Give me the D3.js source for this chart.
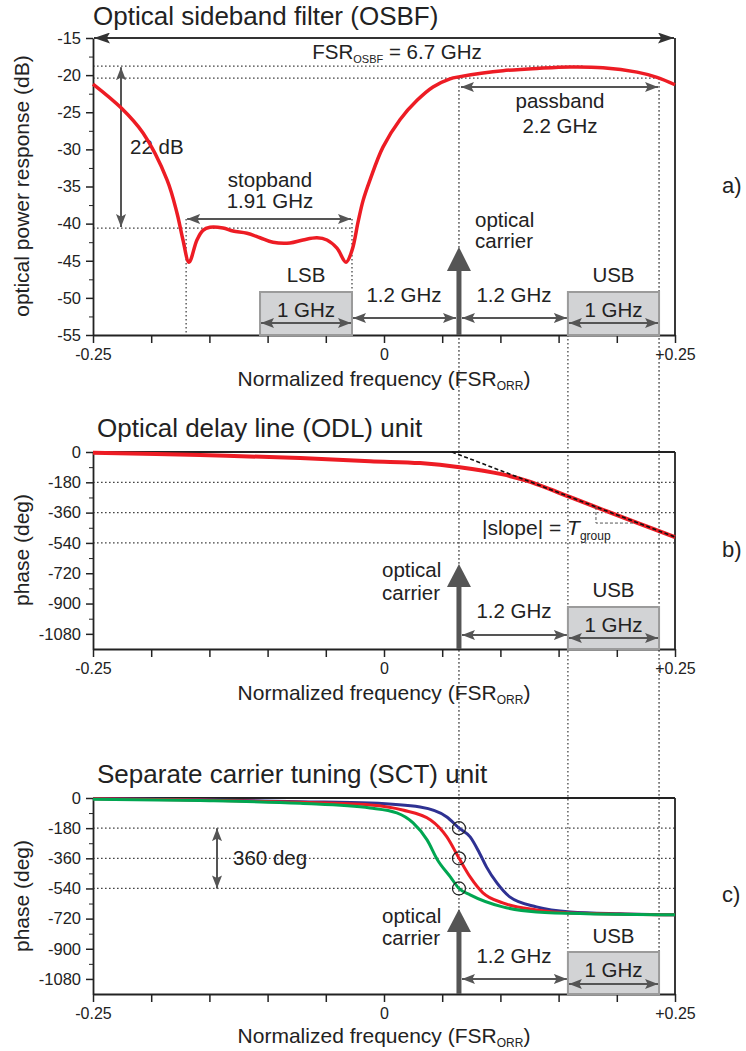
<!DOCTYPE html>
<html><head><meta charset="utf-8">
<script src="https://cdn.jsdelivr.net/npm/d3@7"></script>
<style>
body{margin:0;background:#fff}
text{font-family:"Liberation Sans",Arial,Helvetica,sans-serif;fill:#222}
</style>
</head><body>
<svg id="c" width="746" height="1051"></svg>
<script>
// ---------- data ----------
const xTickVals = [-0.25,-0.2,-0.15,-0.1,-0.05,0,0.05,0.1,0.15,0.2,0.25];
const xTickLabels = ["-0.25","","","","","0","","","","","+0.25"];
const dbTicks = [-15,-20,-25,-30,-35,-40,-45,-50,-55];
const dbMinor = [-17.5,-22.5,-27.5,-32.5,-37.5,-42.5,-47.5,-52.5];
const phaseTicks = [0,-180,-360,-540,-720,-900,-1080];
const phaseMinor = [-90,-270,-450,-630,-810,-990];
const phaseGrid = [-180,-360,-540];

// OSBF measured response (normalized freq, dB)
const osbfFreq = [-0.25,-0.2259,-0.207,-0.1864,-0.1778,-0.1727,-0.1675,-0.1607,-0.1555,-0.1495,-0.1383,-0.1297,-0.1177,-0.1065,-0.0954,-0.0808,-0.0696,-0.0576,-0.049,-0.0404,-0.0326,-0.0275,-0.0223,-0.018,-0.012,-0.0009,0.0137,0.0284,0.0421,0.0567,0.0653,0.0851,0.1022,0.1314,0.1598,0.1881,0.2174,0.2345,0.25];
const osbfDb   = [-21.2,-24.4,-27.8,-34.1,-38.6,-42.2,-45.2,-42.2,-40.9,-40.5,-40.6,-41.0,-41.3,-41.9,-42.5,-42.6,-42.2,-41.9,-42.2,-43.3,-45.2,-43.6,-39.8,-36.9,-34.1,-29.7,-26.0,-23.4,-21.6,-20.5,-20.2,-19.7,-19.4,-19.1,-18.9,-19.0,-19.6,-20.3,-21.3];

// ODL phase (normalized freq, deg)
const odlFreq  = [-0.25,-0.158,-0.072,-0.012,0.031,0.065,0.102,0.123,0.16,0.188,0.217,0.25];
const odlPhase = [-5,-18,-36,-55,-66,-90,-133,-172,-268,-343,-420,-505];
const tangentFreq = [0.0584,0.25];
const tangentPhase = [0,-505];

// SCT phase curves
const blueFreq  = [-0.25,-0.158,-0.072,-0.012,0.031,0.054,0.0645,0.074,0.082,0.088,0.097,0.108,0.131,0.16,0.203,0.25];
const bluePhase = [-3,-10,-22,-30,-54,-113,-180,-232,-328,-411,-507,-590,-650,-680,-691,-697];
const redFreq   = [-0.25,-0.158,-0.072,-0.012,0.016,0.04,0.054,0.0645,0.074,0.085,0.102,0.131,0.16,0.25];
const redPhase  = [-4,-12,-26,-42,-72,-131,-232,-360,-471,-566,-626,-668,-686,-697];
const greenFreq = [-0.25,-0.158,-0.072,-0.012,0.011,0.025,0.037,0.046,0.057,0.0645,0.074,0.102,0.131,0.174,0.25];
const greenPhase= [-8,-15,-32,-60,-89,-149,-250,-370,-471,-540,-578,-650,-680,-691,-697];
const carrierPhases = [-180,-360,-540];

// annotation positions (normalized freq)
const carrierF = 0.0644, usbStart = 0.158, usbEnd = 0.2363;
const lsbStart = -0.1065, lsbEnd = -0.0275, stopStart = -0.170, stopEnd = -0.0275;
const peakDb = -18.8, passDb = -20.4, stopDb = -40.6;

// ---------- drawing ----------
const svg = d3.select("#c");
const FONT = '"Liberation Sans",Arial,Helvetica,sans-serif';
const GRAY = "#555";
const defs = svg.append("defs");
function marker(id, color, len, wid){
  defs.append("marker").attr("id",id).attr("markerUnits","userSpaceOnUse")
    .attr("markerWidth",len).attr("markerHeight",wid).attr("refX",len).attr("refY",wid/2)
    .attr("orient","auto-start-reverse")
    .append("path").attr("d",`M0,0L${len},${wid/2}L0,${wid}L${len*0.2},${wid/2}Z`).attr("fill",color);
}
marker("ah",GRAY,13,10);
marker("ahk","#333",16,11);

const x = d3.scaleLinear().domain([-0.25,0.25]).range([93,675]);
const yA = d3.scaleLinear().domain([-55,-15]).range([335,38]);
const yB = d3.scaleLinear().domain([-1170,0]).range([649,452]);
const yC = d3.scaleLinear().domain([-1170,0]).range([994,798]);

const gDot = svg.append("g");
const gMain = svg.append("g");

function dotted(g,x1,y1,x2,y2){
  g.append("line").attr("x1",x1).attr("y1",y1).attr("x2",x2).attr("y2",y2)
   .attr("stroke","#444").attr("stroke-width",1.3).attr("stroke-dasharray","1.6,2.4");
}
function arrow(g,x1,y1,x2,y2,both,col,mk,w){
  const l = g.append("line").attr("x1",x1).attr("y1",y1).attr("x2",x2).attr("y2",y2)
   .attr("stroke",col||GRAY).attr("stroke-width",w||2).attr("marker-end",`url(#${mk||"ah"})`);
  if(both) l.attr("marker-start",`url(#${mk||"ah"})`);
}
function txt(g,s,xx,yy,size,anchor){
  return g.append("text").attr("x",xx).attr("y",yy).attr("font-size",size).attr("text-anchor",anchor||"start").text(s);
}
function xlabel(g,yy){
  const t = g.append("text").attr("x",384).attr("y",yy).attr("font-size",21).attr("text-anchor","middle");
  t.append("tspan").text("Normalized frequency (FSR");
  t.append("tspan").attr("font-size",12).attr("dy",4).text("ORR");
  t.append("tspan").attr("font-size",21).attr("dy",-4).text(")");
}
function ylabel(g,s,cy){
  g.append("text").attr("transform",`translate(29,${cy}) rotate(-90)`).attr("font-size",21)
   .attr("text-anchor","middle").text(s);
}
function axes(g,y,majors,minors,top,bottom){
  const ax = g.append("g").attr("transform",`translate(93,0)`)
    .call(d3.axisLeft(y).tickValues(majors).tickSize(7).tickPadding(5).tickSizeOuter(0).tickFormat(d=>d===0?"0":String(d)));
  ax.attr("font-size",16.5).attr("font-family",FONT).attr("color","#222");
  ax.select(".domain").attr("stroke-width",1.8);
  ax.selectAll("line").attr("stroke-width",1.5);
  const mi = g.append("g").attr("transform",`translate(93,0)`)
    .call(d3.axisLeft(y).tickValues(minors).tickSize(4).tickFormat(""));
  mi.attr("color","#222"); mi.select(".domain").remove();
  const bx = g.append("g").attr("transform",`translate(0,${bottom})`)
    .call(d3.axisBottom(x).tickValues(xTickVals).tickSize(8).tickPadding(6).tickSizeOuter(0)
    .tickFormat((d,i)=>xTickLabels[i]));
  bx.attr("font-size",16).attr("font-family",FONT).attr("color","#222");
  bx.select(".domain").attr("stroke-width",1.8);
  bx.selectAll("line").attr("stroke-width",1.5);
  g.append("line").attr("x1",675).attr("x2",675).attr("y1",top).attr("y2",bottom).attr("stroke","#222").attr("stroke-width",1.8);
}
function carrierArrow(g,tip,base,bottom){
  g.append("line").attr("x1",x(carrierF)).attr("x2",x(carrierF)).attr("y1",base-1).attr("y2",bottom)
   .attr("stroke",GRAY).attr("stroke-width",5);
  const cx = x(carrierF);
  g.append("path").attr("d",`M${cx},${tip}L${cx+12},${base}L${cx-12},${base}Z`).attr("fill",GRAY);
}
function sideBox(g,f0,f1,top,bottom,arrY,txtY){
  g.append("rect").attr("x",x(f0)).attr("y",top).attr("width",x(f1)-x(f0)).attr("height",bottom-top)
   .attr("fill","#d2d3d5").attr("stroke","#9b9b9b").attr("stroke-width",2);
  txt(g,"1 GHz",(x(f0)+x(f1))/2,txtY,20.5,"middle");
  arrow(g,x(f0)+1,arrY,x(f1)-1,arrY,true);
}

// long vertical dotted guides
dotted(gDot,x(carrierF),yA(passDb),x(carrierF),994);
dotted(gDot,x(usbEnd),yA(passDb),x(usbEnd),994);
dotted(gDot,x(usbStart),335,x(usbStart),994);

// ===== Panel A =====
const A = gMain.append("g");
txt(A,"Optical sideband filter (OSBF)",93,25,26);
dotted(A,93,yA(peakDb),x(0.171),yA(peakDb));
dotted(A,93,yA(passDb),x(usbEnd),yA(passDb));
dotted(A,93,yA(stopDb),x(stopEnd),yA(stopDb));
dotted(A,x(stopStart),219,x(stopStart),335);
dotted(A,x(stopEnd),219,x(stopEnd),335);
axes(A,yA,dbTicks,dbMinor,38,335);
ylabel(A,"optical power response (dB)",186);
xlabel(A,386);
// FSR arrow on top
arrow(A,94,38,674,38,true,"#333","ahk",2);
const fsr = A.append("text").attr("x",397).attr("y",59).attr("font-size",20.5).attr("text-anchor","middle");
fsr.append("tspan").text("FSR");
fsr.append("tspan").attr("font-size",11).attr("dy",4).text("OSBF");
fsr.append("tspan").attr("dy",-4).text(" = 6.7 GHz");
// 22 dB
arrow(A,121,yA(peakDb)+1,121,yA(stopDb)-1,true);
txt(A,"22 dB",130,154,20.5);
// stopband
arrow(A,x(stopStart)+1,219,x(stopEnd)-1,219,true);
txt(A,"stopband",270,187,20.5,"middle");
txt(A,"1.91 GHz",270,208,20.5,"middle");
// passband
arrow(A,x(carrierF)+2,87,x(usbEnd)-1,87,true);
txt(A,"passband",560,108,20.5,"middle");
txt(A,"2.2 GHz",560,133,20.5,"middle");
// curve
A.append("path").datum(osbfFreq.map((f,i)=>[f,osbfDb[i]]))
  .attr("d",d3.line().x(d=>x(d[0])).y(d=>yA(d[1])).curve(d3.curveCatmullRom.alpha(0.5)))
  .attr("fill","none").attr("stroke","#ed1c24").attr("stroke-width",3.5);
// carrier & sidebands
txt(A,"optical",475,227,20.5); txt(A,"carrier",475,248,20.5);
carrierArrow(A,247,271,335);
arrow(A,x(lsbEnd)+1,318,x(carrierF)-3,318,true);
arrow(A,x(carrierF)+3,318,x(usbStart)-1,318,true);
txt(A,"1.2 GHz",404,302,20.5,"middle");
txt(A,"1.2 GHz",514,302,20.5,"middle");
txt(A,"LSB",(x(lsbStart)+x(lsbEnd))/2,282,20.5,"middle");
txt(A,"USB",(x(usbStart)+x(usbEnd))/2,282,20.5,"middle");
sideBox(A,lsbStart,lsbEnd,292,335,323,317);
sideBox(A,usbStart,usbEnd,292,335,323,317);
txt(A,"a)",722,193,22);

// ===== Panel B =====
const B = gMain.append("g");
txt(B,"Optical delay line (ODL) unit",97,437,26);
phaseGrid.forEach(p=>dotted(B,93,yB(p),675,yB(p)));
axes(B,yB,phaseTicks,phaseMinor,452,649);
B.append("line").attr("x1",93).attr("x2",675).attr("y1",452).attr("y2",452).attr("stroke","#222").attr("stroke-width",1.8);
ylabel(B,"phase (deg)",550);
xlabel(B,700);
B.append("path").datum(odlFreq.map((f,i)=>[f,odlPhase[i]]))
  .attr("d",d3.line().x(d=>x(d[0])).y(d=>yB(d[1])).curve(d3.curveCatmullRom.alpha(0.5)))
  .attr("fill","none").attr("stroke","#ed1c24").attr("stroke-width",4);
B.append("path").datum(tangentFreq.map((f,i)=>[f,tangentPhase[i]]))
  .attr("d",d3.line().x(d=>x(d[0])).y(d=>yB(d[1])))
  .attr("fill","none").attr("stroke","#111").attr("stroke-width",1.6).attr("stroke-dasharray","4,2.5");
B.append("path").attr("d",`M${x(0.1821)},${yB(-327)}V${yB(-422)}H${x(0.2156)}`)
  .attr("fill","none").attr("stroke",GRAY).attr("stroke-width",1).attr("stroke-dasharray","3,2");
const sl = B.append("text").attr("x",482).attr("y",535).attr("font-size",21);
sl.append("tspan").text("|slope| = ");
sl.append("tspan").attr("font-style","italic").text("T");
sl.append("tspan").attr("font-size",12).attr("dy",5).text("group");
txt(B,"optical",382,577,20.5); txt(B,"carrier",382,600,20.5);
carrierArrow(B,564,587,649);
arrow(B,x(carrierF)+3,635,x(usbStart)-1,635,true);
txt(B,"1.2 GHz",514,618,20.5,"middle");
txt(B,"USB",(x(usbStart)+x(usbEnd))/2,597,20.5,"middle");
sideBox(B,usbStart,usbEnd,607,649,638,632);
txt(B,"b)",722,557,22);

// ===== Panel C =====
const C = gMain.append("g");
txt(C,"Separate carrier tuning (SCT) unit",97,783,26);
phaseGrid.forEach(p=>dotted(C,93,yC(p),675,yC(p)));
axes(C,yC,phaseTicks,phaseMinor,798,994);
C.append("line").attr("x1",93).attr("x2",675).attr("y1",798).attr("y2",798).attr("stroke","#222").attr("stroke-width",1.8);
ylabel(C,"phase (deg)",896);
xlabel(C,1043);
const lineC = d3.line().x(d=>x(d[0])).y(d=>yC(d[1])).curve(d3.curveMonotoneX);
[[blueFreq,bluePhase,"#2e3192"],[redFreq,redPhase,"#ed1c24"],[greenFreq,greenPhase,"#00a651"]].forEach(([fs,ps,col])=>{
  C.append("path").datum(fs.map((f,i)=>[f,ps[i]])).attr("d",lineC)
   .attr("fill","none").attr("stroke",col).attr("stroke-width",3);
});
C.selectAll("circle.cp").data(carrierPhases).enter().append("circle")
  .attr("cx",x(carrierF)).attr("cy",d=>yC(d)).attr("r",6.5)
  .attr("fill","none").attr("stroke","#222").attr("stroke-width",1.2);
arrow(C,217,yC(-180),217,yC(-540),true);
txt(C,"360 deg",233,865,20.5);
txt(C,"optical",382,923,20.5); txt(C,"carrier",382,945,20.5);
carrierArrow(C,909,932,994);
arrow(C,x(carrierF)+3,979,x(usbStart)-1,979,true);
txt(C,"1.2 GHz",514,963,20.5,"middle");
txt(C,"USB",(x(usbStart)+x(usbEnd))/2,943,20.5,"middle");
sideBox(C,usbStart,usbEnd,952,994,984,977);
txt(C,"c)",722,902,22);
</script>
</body></html>
